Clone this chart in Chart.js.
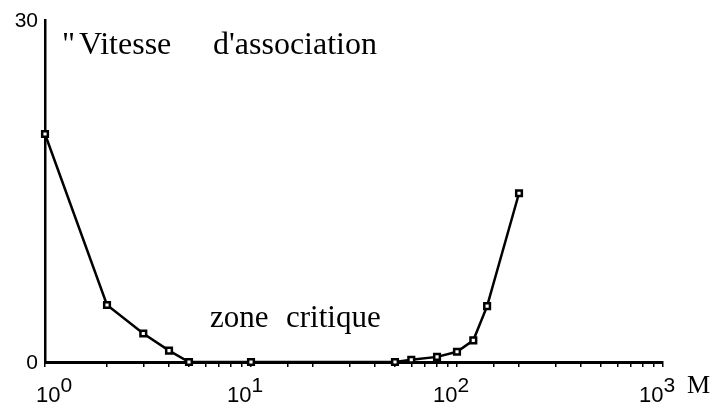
<!DOCTYPE html>
<html>
<head>
<meta charset="utf-8">
<script src="https://cdn.jsdelivr.net/npm/chart.js@4/dist/chart.umd.min.js"></script>
<style>
    html, body { margin: 0; padding: 0; background: #fff; }
    #wrap { width: 714px; height: 405px; }
</style>
</head>
<body>
<div id="wrap"><canvas id="chart" width="714" height="405"></canvas></div>
<script>
// données
const masses = [1, 2, 3, 4, 5, 10, 50, 60, 80, 100, 120, 140, 200];
const vitesses = [20, 5, 2.5, 1, 0, 0, 0, 0.2, 0.45, 0.9, 1.9, 4.9, 14.8];

// graduations
const xDecades = [1, 10, 100, 1000];
const xExposants = ['0', '1', '2', '3'];
const yTicks = [0, 30];
const yLabels = ['0', '30'];

// textes de la figure
const titreParts = ['"', 'Vitesse', "d'association"];
const noteZone = ['zone', 'critique'];
const axeX = 'M';

// dessin des textes et des étiquettes d'axes
const textesPlugin = {
    id: 'textes',
    afterDraw(chart) {
        const ctx = chart.ctx;
        const xs = chart.scales.x;
        const ys = chart.scales.y;
        ctx.save();
        ctx.fillStyle = '#000';

        // étiquettes Y
        ctx.font = '21px "Liberation Sans", Arial, sans-serif';
        ctx.textAlign = 'right';
        ctx.textBaseline = 'middle';
        yTicks.forEach((v, i) => {
            ctx.fillText(yLabels[i], xs.left - 7, ys.getPixelForValue(v) + 1);
        });

        // étiquettes X : 10 avec exposant
        ctx.textBaseline = 'alphabetic';
        ctx.textAlign = 'left';
        xDecades.forEach((v, i) => {
            const px = xs.getPixelForValue(v);
            ctx.font = '22px "Liberation Sans", Arial, sans-serif';
            const wBase = ctx.measureText('10').width;
            ctx.font = '21px "Liberation Sans", Arial, sans-serif';
            const wExp = ctx.measureText(xExposants[i]).width;
            const x0 = px - (wBase + wExp) / 2 + (i === 0 ? 9 : -6);
            ctx.font = '22px "Liberation Sans", Arial, sans-serif';
            ctx.fillText('10', x0, 402);
            ctx.font = '21px "Liberation Sans", Arial, sans-serif';
            ctx.fillText(xExposants[i], x0 + wBase, 392);
        });

        // nom de l'axe X
        ctx.font = '26px "Liberation Serif", "Times New Roman", serif';
        ctx.fillText(axeX, 687, 393);

        // titre
        ctx.font = '32px "Liberation Serif", "Times New Roman", serif';
        ctx.fillText(titreParts[0], 62, 54);
        ctx.fillText(titreParts[1], 79, 54);
        ctx.fillText(titreParts[2], 213, 54);

        // zone critique
        ctx.font = '31px "Liberation Serif", "Times New Roman", serif';
        ctx.fillText(noteZone[0], 210, 327);
        ctx.fillText(noteZone[1], 286, 327);
        ctx.restore();
    }
};

const ctx = document.getElementById('chart').getContext('2d');
new Chart(ctx, {
    type: 'scatter',
    data: {
        datasets: [{
            data: masses.map((m, i) => ({ x: m, y: vitesses[i] })),
            showLine: true,
            borderColor: '#000',
            borderWidth: 2.5,
            pointStyle: 'rect',
            pointRadius: 4,
            pointBorderWidth: 2.5,
            pointBackgroundColor: '#fff',
            pointBorderColor: '#000',
            clip: false
        }]
    },
    options: {
        responsive: false,
        animation: false,
        layout: {
            padding: { left: 45, top: 20, right: 51, bottom: 38 }
        },
        plugins: {
            legend: { display: false },
            tooltip: { enabled: false }
        },
        scales: {
            x: {
                type: 'logarithmic',
                min: 1,
                max: 1000,
                grid: {
                    display: true,
                    drawOnChartArea: false,
                    drawTicks: true,
                    tickLength: 5,
                    color: '#000',
                    lineWidth: 1.5
                },
                border: { display: true, color: '#000', width: 3 },
                ticks: { display: false }
            },
            y: {
                min: 0,
                max: 30,
                grid: { display: false, drawTicks: false },
                border: { display: true, color: '#000', width: 2.5 },
                ticks: { display: false }
            }
        }
    },
    plugins: [textesPlugin]
});
</script>
</body>
</html>
